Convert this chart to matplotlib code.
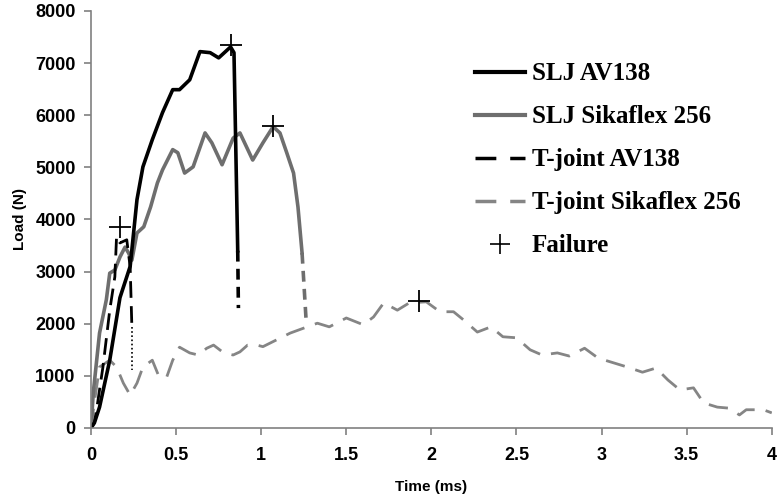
import numpy as np
import matplotlib
matplotlib.use('Agg')
import matplotlib.pyplot as plt
from matplotlib.lines import Line2D

# SLJ AV138 (time ms, load N)
slj_av_t = [0, 0.02, 0.05, 0.11, 0.17, 0.23, 0.27, 0.305, 0.36, 0.42, 0.48, 0.52, 0.58,
            0.64, 0.70, 0.75, 0.82, 0.84, 0.862]
slj_av_L = [0, 100, 400, 1300, 2500, 3100, 4380, 5010, 5530, 6050, 6490, 6490, 6680,
            7220, 7200, 7100, 7310, 7200, 3400]
slj_av_tail_t = [0.862, 0.866]
slj_av_tail_L = [3400, 2300]

# SLJ Sikaflex 256
slj_sk_t = [0, 0.013, 0.05, 0.09, 0.11, 0.14, 0.17, 0.20, 0.22, 0.24, 0.27, 0.31, 0.35,
            0.39, 0.42, 0.48, 0.51, 0.55, 0.60, 0.67, 0.71, 0.77, 0.835, 0.875, 0.95,
            1.01, 1.07, 1.11, 1.15, 1.19, 1.216, 1.24]
slj_sk_L = [0, 670, 1820, 2460, 2970, 3030, 3280, 3470, 3360, 3220, 3740, 3860, 4240,
            4700, 4950, 5340, 5280, 4890, 5010, 5660, 5470, 5050, 5560, 5660, 5140,
            5470, 5780, 5660, 5280, 4890, 4240, 3360]
slj_sk_tail_t = [1.24, 1.265]
slj_sk_tail_L = [3360, 2000]

# T-joint AV138
tj_av_t = [0, 0.02, 0.035, 0.07, 0.11, 0.14, 0.15, 0.17, 0.21, 0.23, 0.24]
tj_av_L = [0, 100, 400, 1170, 2260, 2900, 3670, 3550, 3610, 3090, 1940]
tj_av_tail_t = [0.24, 0.24]
tj_av_tail_L = [1940, 1110]

# T-joint Sikaflex 256
tj_sk_t = [0, 0.02, 0.05, 0.11, 0.15, 0.19, 0.23, 0.27, 0.305, 0.36, 0.40, 0.445, 0.48,
           0.52, 0.58, 0.63, 0.68, 0.72, 0.78, 0.835, 0.875, 0.92, 0.975, 1.01, 1.09,
           1.17, 1.27, 1.33, 1.40, 1.50, 1.60, 1.66, 1.72, 1.80, 1.87, 1.97, 2.05,
           2.13, 2.19, 2.27, 2.35, 2.42, 2.50, 2.58, 2.65, 2.74, 2.81, 2.90, 2.98,
           3.07, 3.15, 3.24, 3.32, 3.39, 3.46, 3.54, 3.60, 3.68, 3.75, 3.81, 3.85,
           3.95, 4.0]
tj_sk_L = [0, 500, 1170, 1300, 1170, 860, 630, 860, 1170, 1300, 980, 980, 1300,
           1550, 1440, 1400, 1530, 1590, 1440, 1400, 1460, 1590, 1590, 1560, 1690,
           1820, 1940, 2010, 1940, 2110, 1980, 2130, 2400, 2260, 2400, 2420, 2230,
           2230, 2070, 1840, 1940, 1750, 1730, 1500, 1400, 1440, 1380, 1530, 1340,
           1250, 1170, 1070, 1150, 920, 730, 770, 480, 400, 380, 250, 350,
           350, 290]

# failure points
fail_t = [0.17, 0.82, 1.07, 1.93]
fail_L = [3860, 7350, 5800, 2440]

black = '#000000'
gray1 = '#6e6e6e'
gray2 = '#858585'

fig = plt.figure(figsize=(7.78, 4.98), dpi=100)
ax = fig.add_axes([0.117, 0.1406, 0.875, 0.8374])

ax.plot(tj_sk_t, tj_sk_L, color=gray2, lw=2.0, dashes=(7, 4))
ax.plot(slj_sk_t, slj_sk_L, color=gray1, lw=2.6, solid_joinstyle='round')
ax.plot(slj_sk_tail_t, slj_sk_tail_L, color=gray1, lw=2.6, dashes=(3, 2))
ax.plot(slj_av_t, slj_av_L, color=black, lw=2.6, solid_joinstyle='round')
ax.plot(slj_av_tail_t, slj_av_tail_L, color=black, lw=2.6, dashes=(3, 2))
ax.plot(tj_av_t, tj_av_L, color=black, lw=2.0, dashes=(6, 3))
ax.plot(tj_av_tail_t, tj_av_tail_L, color=black, lw=1.2, dashes=(1, 1.5))
ax.plot(fail_t, fail_L, ls='none', marker='+', ms=16, mew=1.3, color=black)

ax.set_xlim(0, 4)
ax.set_ylim(0, 8000)
ax.set_xticks(np.arange(0, 4.01, 0.5))
ax.set_xticklabels(['0', '0.5', '1', '1.5', '2', '2.5', '3', '3.5', '4'])
ax.set_yticks(np.arange(0, 8001, 1000))

for s in ['top', 'right']:
    ax.spines[s].set_visible(False)
for s in ['left', 'bottom']:
    ax.spines[s].set_color('#808080')
    ax.spines[s].set_linewidth(1.2)
ax.tick_params(direction='out', length=5, width=1.2, color='#808080', pad=6)
for lab in ax.get_xticklabels() + ax.get_yticklabels():
    lab.set_fontfamily('Liberation Sans')
    lab.set_fontweight('bold')
    lab.set_fontsize(13)
ax.tick_params(axis='x', pad=9)

ax.set_xlabel('Time (ms)', family='Liberation Sans', weight='bold', fontsize=11, labelpad=11)
ax.set_ylabel('Load (N)', family='Liberation Sans', weight='bold', fontsize=11, labelpad=6)

handles = [
    Line2D([], [], color=black, lw=3),
    Line2D([], [], color=gray1, lw=3),
    Line2D([], [], color=black, lw=2.5, dashes=(6, 4)),
    Line2D([], [], color=gray2, lw=2.5, dashes=(6, 4)),
    Line2D([], [], ls='none', marker='+', ms=15, mew=1.2, color=black),
]
labels = ['SLJ AV138', 'SLJ Sikaflex 256', 'T-joint AV138', 'T-joint Sikaflex 256', 'Failure']
leg = fig.legend(handles, labels, loc='upper left', bbox_to_anchor=(0.581, 0.92),
                 frameon=False, handlelength=2.0, handletextpad=0.28, labelspacing=0.8,
                 prop={'family': 'Liberation Serif', 'weight': 'bold', 'size': 18})

fig.savefig('out.png', dpi=100)
